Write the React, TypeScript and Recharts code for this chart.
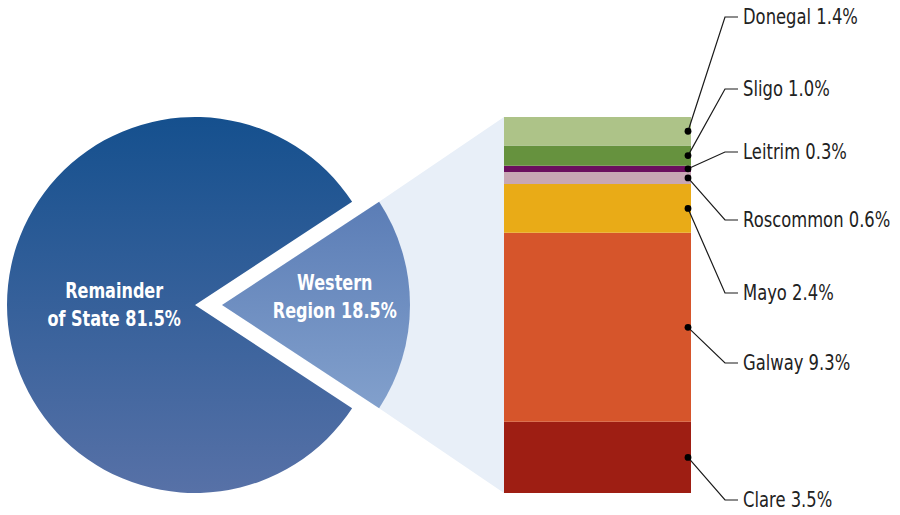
import React from "react";
import { PieChart, Pie, Cell, BarChart, Bar, XAxis, YAxis } from "recharts";

// ---- data ----
const pieNames = ["Western Region", "Remainder of State"];
const pieValues = [18.5, 81.5];
const pieLabelLines = [
  ["Western", "Region 18.5%"],
  ["Remainder", "of State 81.5%"],
];

// stacked from bottom to top
const counties = ["Clare", "Galway", "Mayo", "Roscommon", "Leitrim", "Sligo", "Donegal"];
const countyValues = [3.5, 9.3, 2.4, 0.6, 0.3, 1.0, 1.4];

// ---- layout / style ----
const countyColors = ["#9e1e13", "#d6552b", "#e9ab17", "#c8a7b4", "#6b0f5e", "#66923e", "#adc388"];
const labelCenters = [500, 363, 293, 220, 152, 89, 17];
const W = 900;
const H = 515;
const PIE_CX = 195;
const PIE_CY = 305;
const PIE_R = 188;
const EXPLODE = 27;
const BAR_LEFT = 504;
const BAR_RIGHT = 691;
const BAR_TOP = 117;
const BAR_BOTTOM = 493;
const FONT = "'DejaVu Sans', sans-serif";

const pieData = pieNames.map((n, i) => ({ name: n, value: pieValues[i] }));
const pieTotal = pieValues.reduce((a, b) => a + b, 0);
const halfAngle = (pieValues[0] / pieTotal) * 180;

const barRow: Record<string, number | string> = { cat: "Western Region" };
counties.forEach((c, i) => (barRow[c] = countyValues[i]));
const barData = [barRow];
const barTotal = countyValues.reduce((a, b) => a + b, 0);

const makeBarLabel = (i: number) => (props: any) => {
  const vb = props.viewBox || {};
  const x = props.x ?? vb.x;
  const y = props.y ?? vb.y;
  const w = props.width ?? vb.width;
  const h = props.height ?? vb.height;
  const dx = x + w - 3;
  const dy = y + h / 2;
  const ly = labelCenters[i];
  return (
    <g key={`lbl-${i}`}>
      <polyline
        points={`${dx},${dy} 725,${ly} 738,${ly}`}
        fill="none"
        stroke="#1a1a1a"
        strokeWidth={1.2}
      />
      <circle cx={dx} cy={dy} r={3.4} fill="#000" />
      <text
        transform={`translate(743, ${ly}) scale(0.78, 1)`}
        x={0}
        y={0}
        dominantBaseline="central"
        fontFamily={FONT}
        fontSize={21}
        fill="#222"
      >
        {`${counties[i]} ${countyValues[i].toFixed(1)}%`}
      </text>
    </g>
  );
};

const pieLabel = (which: number, dyLines: number[]) => (props: any) => {
  if (props.index !== which) return null;
  const rFactor = which === 0 ? 0.6 : 0.43;
  const ang = (-props.midAngle * Math.PI) / 180;
  const x = props.cx + props.outerRadius * rFactor * Math.cos(ang);
  const y = props.cy + props.outerRadius * rFactor * Math.sin(ang);
  return (
    <text
      key={`pl-${which}`}
      transform={`translate(${x}, ${y}) scale(0.73, 1)`}
      x={0}
      y={0}
      textAnchor="middle"
      fontFamily={FONT}
      fontWeight="bold"
      fontSize={22}
      fill="#ffffff"
    >
      {pieLabelLines[which].map((l, k) => (
        <tspan key={k} x={0} y={dyLines[k]} dominantBaseline="central">
          {l}
        </tspan>
      ))}
    </text>
  );
};

export default function App() {
  const a = (halfAngle * Math.PI) / 180;
  const sx = PIE_CX + EXPLODE + PIE_R * Math.cos(a);
  const syTop = PIE_CY - PIE_R * Math.sin(a);
  const syBot = PIE_CY + PIE_R * Math.sin(a);
  return (
    <div style={{ position: "absolute", left: 0, top: 0, width: W, height: H, background: "#fff" }}>
      <svg width={W} height={H} style={{ position: "absolute", left: 0, top: 0 }}>
        <defs>
          <linearGradient id="gMain" x1="0" y1="0" x2="0" y2="1">
            <stop offset="0%" stopColor="#15508e" />
            <stop offset="100%" stopColor="#5771a7" />
          </linearGradient>
          <linearGradient id="gWest" x1="0" y1="0" x2="0" y2="1">
            <stop offset="0%" stopColor="#5b7db6" />
            <stop offset="100%" stopColor="#82a0cc" />
          </linearGradient>
        </defs>
        <polygon
          points={`${PIE_CX + EXPLODE},${PIE_CY} ${sx},${syTop} ${BAR_LEFT},${BAR_TOP} ${BAR_LEFT},${BAR_BOTTOM} ${sx},${syBot}`}
          fill="#e8eff8"
        />
      </svg>
      <div style={{ position: "absolute", left: 0, top: 0 }}>
        <BarChart
          width={W}
          height={H}
          data={barData}
          margin={{ top: BAR_TOP, right: W - BAR_RIGHT, bottom: H - BAR_BOTTOM, left: BAR_LEFT }}
          barCategoryGap={0}
          barGap={0}
        >
          <XAxis dataKey="cat" hide />
          <YAxis hide domain={[0, barTotal]} />
          {counties.map((c, i) => (
            <Bar
              key={c}
              dataKey={c}
              stackId="w"
              fill={countyColors[i]}
              isAnimationActive={false}
              label={makeBarLabel(i)}
            />
          ))}
        </BarChart>
      </div>
      <div style={{ position: "absolute", left: 0, top: 0 }}>
        <PieChart width={W} height={H} margin={{ top: 0, right: 0, bottom: 0, left: 0 }}>
          <Pie
            data={pieData}
            dataKey="value"
            cx={PIE_CX}
            cy={PIE_CY}
            outerRadius={PIE_R}
            startAngle={-halfAngle}
            endAngle={360 - halfAngle}
            stroke="none"
            isAnimationActive={false}
            labelLine={false}
            label={pieLabel(1, [-14, 14])}
          >
            <Cell fill="none" />
            <Cell fill="url(#gMain)" />
          </Pie>
          <Pie
            data={pieData}
            dataKey="value"
            cx={PIE_CX + EXPLODE}
            cy={PIE_CY}
            outerRadius={PIE_R}
            startAngle={-halfAngle}
            endAngle={360 - halfAngle}
            stroke="none"
            isAnimationActive={false}
            labelLine={false}
            label={pieLabel(0, [-22, 6])}
          >
            <Cell fill="url(#gWest)" />
            <Cell fill="none" />
          </Pie>
        </PieChart>
      </div>
    </div>
  );
}
